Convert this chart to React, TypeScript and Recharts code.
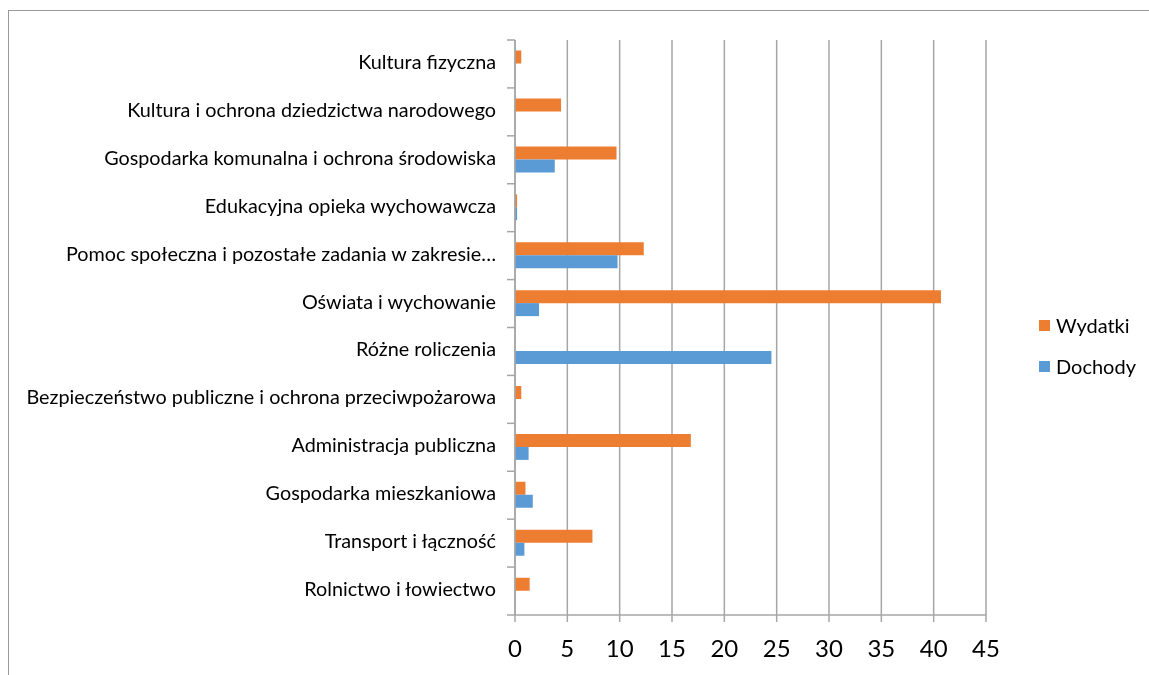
import React from 'react'
import { BarChart, Bar, XAxis, YAxis, CartesianGrid } from 'recharts'

const categories = [
  'Kultura fizyczna',
  'Kultura i ochrona dziedzictwa narodowego',
  'Gospodarka komunalna i ochrona środowiska',
  'Edukacyjna opieka wychowawcza',
  'Pomoc społeczna i pozostałe zadania w zakresie…',
  'Oświata i wychowanie',
  'Różne roliczenia',
  'Bezpieczeństwo publiczne i ochrona przeciwpożarowa',
  'Administracja publiczna',
  'Gospodarka mieszkaniowa',
  'Transport i łączność',
  'Rolnictwo i łowiectwo',
]
const wydatki = [0.6, 4.4, 9.7, 0.2, 12.3, 40.7, 0, 0.6, 16.8, 1.0, 7.4, 1.4]
const dochody = [0, 0, 3.8, 0.2, 9.8, 2.3, 24.5, 0, 1.3, 1.7, 0.9, 0]
const xTicks = [0, 5, 10, 15, 20, 25, 30, 35, 40, 45]
const series = [
  { key: 'Wydatki', color: '#ED7D31' },
  { key: 'Dochody', color: '#5B9BD5' },
]

const data = categories.map((name, i) => ({ name, Wydatki: wydatki[i], Dochody: dochody[i] }))

const FONT = 'Lato, "Open Sans", sans-serif'
const GRID = '#a6a6a6'
const PLOT_H = 575
const BAND = PLOT_H / categories.length

const CategoryTick = (props: any) => {
  const { x, y, payload, index } = props
  return (
    <g>
      <text x={x - 19} y={y - 3} textAnchor="end" dominantBaseline="central" fontSize={19.8} fill="#000" fontFamily={FONT}>
        {payload.value}
      </text>
      {index === 0 && <line x1={x - 8} x2={x} y1={y - BAND / 2} y2={y - BAND / 2} stroke={GRID} strokeWidth={1.5} />}
      <line x1={x - 8} x2={x} y1={y + BAND / 2} y2={y + BAND / 2} stroke={GRID} strokeWidth={1.5} />
    </g>
  )
}

export default function App() {
  return (
    <div style={{ position: 'relative', width: 1141, height: 659 }}>
      {/* chart frame, runs off the right and bottom edge like the original */}
      <div
        style={{
          position: 'fixed',
          left: 8,
          top: 10,
          width: 2000,
          height: 2000,
          borderTop: '1.5px solid #999',
          borderLeft: '1.5px solid #999',
          pointerEvents: 'none',
        }}
      />
      <BarChart
        width={1141}
        height={659}
        data={data}
        layout="vertical"
        margin={{ top: 32, right: 163, bottom: 12, left: 0 }}
        barCategoryGap="22%"
        barGap={0}
      >
        <CartesianGrid horizontal={false} vertical stroke={GRID} strokeWidth={1.5} />
        <XAxis
          type="number"
          domain={[0, 45]}
          ticks={xTicks}
          interval={0}
          height={40}
          axisLine={{ stroke: GRID, strokeWidth: 1.5 }}
          tickLine={{ stroke: GRID, strokeWidth: 1.5 }}
          tickSize={7}
          tickMargin={18}
          tick={{ fontSize: 24, fill: '#000', fontFamily: FONT }}
        />
        <YAxis
          type="category"
          dataKey="name"
          width={507}
          interval={0}
          axisLine={{ stroke: GRID, strokeWidth: 1.5 }}
          tickLine={false}
          tickSize={0}
          tickMargin={0}
          tick={<CategoryTick />}
        />
        {series.map((s) => (
          <Bar key={s.key} dataKey={s.key} fill={s.color} isAnimationActive={false} />
        ))}
      </BarChart>
      <div style={{ position: 'absolute', left: 1031, top: 305, fontFamily: FONT, fontSize: 20, color: '#000' }}>
        {series.map((s, i) => (
          <div key={s.key} style={{ display: 'flex', alignItems: 'center', height: 24, marginTop: i ? 17 : 0 }}>
            <span style={{ width: 11, height: 11, background: s.color, display: 'inline-block', marginRight: 6 }} />
            {s.key}
          </div>
        ))}
      </div>
    </div>
  )
}
